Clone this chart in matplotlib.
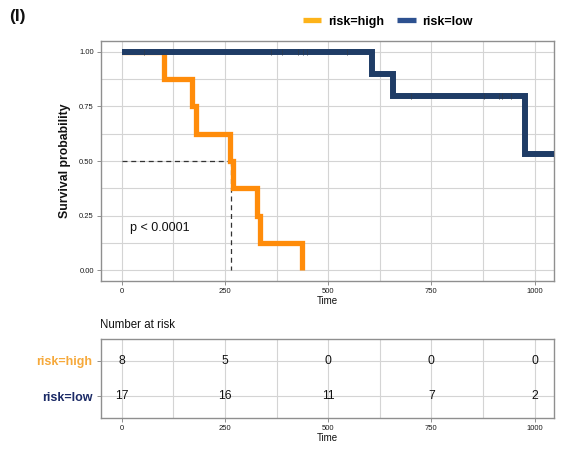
import matplotlib
matplotlib.use("Agg")
import matplotlib.pyplot as plt
from matplotlib.lines import Line2D
import numpy as np

plt.rcParams['font.family'] = ['Liberation Sans', 'DejaVu Sans']

# ---- data ----
groups = ["risk=high", "risk=low"]
high_times = [0, 102, 170, 180, 262, 269, 327, 335, 436]
high_surv = [1.0, 0.875, 0.75, 0.625, 0.5, 0.375, 0.25, 0.125, 0.0]
high_end = 436
low_times = [0, 605, 658, 976]
low_surv = [1.0, 0.9, 0.8, 0.533]
low_end = 1060
low_censor_times = [53, 361, 387, 427, 440, 449, 546, 700, 877, 913, 922, 944]
low_censor_surv = [1.0, 1.0, 1.0, 1.0, 1.0, 1.0, 1.0, 0.8, 0.8, 0.8, 0.8, 0.8]
median_time = 264
median_surv = 0.5
p_text = "p < 0.0001"
risk_times = [0, 250, 500, 750, 1000]
risk_high = [8, 5, 0, 0, 0]
risk_low = [17, 16, 11, 7, 2]
x_ticks = [0, 250, 500, 750, 1000]
y_ticks = [0.0, 0.25, 0.5, 0.75, 1.0]
y_ticklabels = ["0.00", "0.25", "0.50", "0.75", "1.00"]

col_high = "#FF8C0A"
col_low = "#1F3C66"
key_high = "#FDB31A"
key_low = "#2D5190"
lab_high = "#F6A93B"
lab_low = "#1B2A66"
grid_col = "#d4d4d4"
border_col = "#8f8f8f"

W, H = 569, 461
fig = plt.figure(figsize=(W / 100, H / 100), dpi=100)

def fx(px):
    return px / W

def fy(py):
    return 1 - py / H

ax = fig.add_axes([fx(100.7), fy(281), fx(554) - fx(100.7), fy(41) - fy(281)])
ax2 = fig.add_axes([fx(100.7), fy(418), fx(554) - fx(100.7), fy(339) - fy(418)])

XL = (-51, 1047)

def style_axes(a):
    for s in a.spines.values():
        s.set_color(border_col)
        s.set_linewidth(1.0)
    a.tick_params(axis='both', colors=border_col, length=3, width=0.7,
                  labelcolor="#1a1a1a", labelsize=5.5, pad=2)
    a.set_axisbelow(True)

# ---- main KM plot ----
style_axes(ax)
ax.set_xlim(*XL)
ax.set_ylim(-0.05, 1.05)
ax.set_xticks(x_ticks)
ax.set_xticks([125, 375, 625, 875], minor=True)
ax.set_yticks(y_ticks)
ax.set_yticklabels(y_ticklabels)
ax.set_yticks([0.125, 0.375, 0.625, 0.875], minor=True)
ax.tick_params(which='minor', length=0)
ax.grid(True, which='both', color=grid_col, linewidth=0.8)

# median lines
ax.plot([0, median_time], [median_surv, median_surv], color="#333333",
        lw=0.9, ls=(0, (4, 3)), zorder=2)
ax.plot([median_time, median_time], [median_surv, 0], color="#333333",
        lw=0.9, ls=(0, (4, 3)), zorder=2)

hx = high_times + [high_end]
hy = high_surv + [high_surv[-1]]
ax.step(hx, hy, where='post', color=col_high, lw=3.8, zorder=3,
        solid_joinstyle='miter', solid_capstyle='butt')
lx = low_times + [low_end]
ly = low_surv + [low_surv[-1]]
ax.step(lx, ly, where='post', color=col_low, lw=4.3, zorder=4,
        solid_joinstyle='miter', solid_capstyle='butt')
ax.plot(low_censor_times, low_censor_surv, ls='none', marker='|',
        ms=4.2, mew=0.6, color="#2a3a50", zorder=5)

ax.text(20, 0.195, p_text, fontsize=9, ha='left', va='center', color="#111111")
ax.set_xlabel("Time", fontsize=7, labelpad=1, color="#111111")
ax.set_ylabel("Survival probability", fontsize=8.8, fontweight='bold',
              labelpad=6, color="#111111")

# ---- legend ----
handles = [Line2D([], [], color=key_high, lw=3.8, solid_capstyle='butt'),
           Line2D([], [], color=key_low, lw=3.8, solid_capstyle='butt')]
fig.legend(handles, groups, loc='center', bbox_to_anchor=(fx(387.5), fy(21.7)),
           ncol=2, frameon=False, handlelength=1.5, handletextpad=0.5,
           columnspacing=1.05, prop={'weight': 'bold', 'size': 9},
           borderpad=0, borderaxespad=0)

fig.text(fx(9), fy(17), "(I)", fontsize=12.5, fontweight='bold',
         ha='left', va='center', color="#111111")

# ---- risk table ----
style_axes(ax2)
ax2.set_xlim(*XL)
ax2.set_ylim(0.4, 2.6)
ax2.set_xticks(x_ticks)
ax2.set_xticks([125, 375, 625, 875], minor=True)
ax2.tick_params(which='minor', length=0)
ax2.set_yticks([2, 1])
ax2.set_yticklabels(groups)
ax2.tick_params(axis='y', labelsize=9, pad=3)
for lbl, c in zip(ax2.get_yticklabels(), [lab_high, lab_low]):
    lbl.set_color(c)
    lbl.set_fontweight('bold')
ax2.grid(True, which='both', color=grid_col, linewidth=0.8)
for t, n in zip(risk_times, risk_high):
    ax2.text(t, 2, str(n), ha='center', va='center', fontsize=8.7, color="#111111")
for t, n in zip(risk_times, risk_low):
    ax2.text(t, 1, str(n), ha='center', va='center', fontsize=8.7, color="#111111")
ax2.set_xlabel("Time", fontsize=7, labelpad=1, color="#111111")
fig.text(fx(100), fy(325), "Number at risk", fontsize=8.3, ha='left',
         va='center', color="#111111")

fig.savefig("out.png", dpi=100)
